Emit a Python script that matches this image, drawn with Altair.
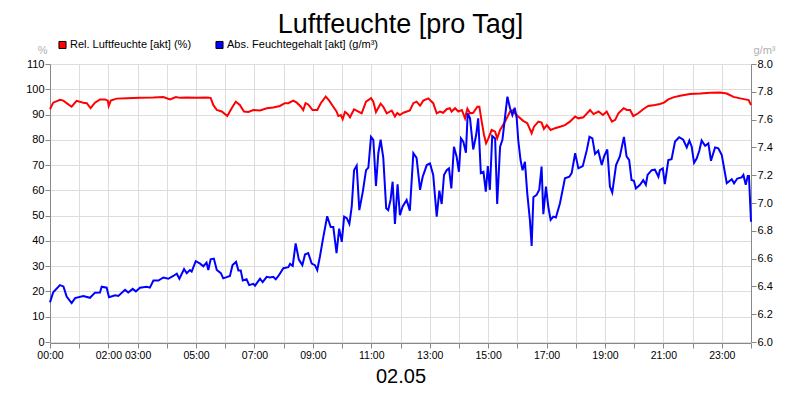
import altair as alt
import pandas as pd

TITLE = "Luftfeuchte [pro Tag]"
DATE = "02.05"
SERIES = ["Rel. Luftfeuchte [akt] (%)", "Abs. Feuchtegehalt [akt] (g/m³)"]
COLORS = ["#ff0000", "#0000ff"]
HOUR_LABELS = [0, 2, 3, 5, 7, 9, 11, 13, 15, 17, 19, 21, 23]
LEFT_TICKS = [0, 10, 20, 30, 40, 50, 60, 70, 80, 90, 100, 110]
RIGHT_TICKS = [6.0, 6.2, 6.4, 6.6, 6.8, 7.0, 7.2, 7.4, 7.6, 7.8, 8.0]

# relative humidity (%), time in hours
REL_T = [0.0, 0.11, 0.34, 0.46, 0.57, 0.74, 0.91, 1.14, 1.26, 1.39, 1.54, 1.71, 1.88, 1.98, 2.01, 2.08,
         2.28, 2.63, 3.08, 3.54, 3.88, 4.11, 4.31, 4.45, 4.68, 5.02, 5.36, 5.50, 5.59, 5.71, 5.88, 6.07,
         6.22, 6.36, 6.50, 6.64, 6.79, 6.96, 7.19, 7.42, 7.64, 7.87, 8.04, 8.16, 8.33, 8.45, 8.59, 8.67,
         8.75, 8.84, 8.99, 9.15, 9.27, 9.44, 9.56, 9.70, 9.81, 9.87, 9.96, 10.02, 10.10, 10.19, 10.27,
         10.41, 10.56, 10.67, 10.82, 10.99, 11.07, 11.16, 11.32, 11.41, 11.53, 11.70, 11.81, 11.89, 11.98,
         12.10, 12.32, 12.44, 12.55, 12.67, 12.78, 12.95, 13.12, 13.24, 13.35, 13.46, 13.58, 13.69, 13.75,
         13.87, 13.98, 14.10, 14.21, 14.29, 14.38, 14.49, 14.63, 14.70, 14.78, 14.86, 14.93, 15.01, 15.12,
         15.24, 15.31, 15.41, 15.58, 15.75, 15.86, 15.92, 16.03, 16.20, 16.34, 16.49, 16.57, 16.72, 16.83,
         16.91, 17.01, 17.14, 17.29, 17.46, 17.63, 17.80, 17.98, 18.09, 18.26, 18.49, 18.61, 18.78, 18.93,
         19.06, 19.24, 19.35, 19.46, 19.64, 19.75, 19.86, 19.97, 20.14, 20.31, 20.48, 20.71, 20.88, 21.02,
         21.17, 21.34, 21.57, 21.91, 22.26, 22.60, 22.94, 23.17, 23.40, 23.63, 23.80, 23.92, 24.0]
REL_V = [92.1, 94.7, 95.8, 95.5, 94.5, 93.1, 95.4, 94.7, 94.5, 92.5, 94.7, 96.0, 96.0, 95.5, 93.4, 95.5,
         96.3, 96.4, 96.6, 96.7, 96.9, 96.0, 96.9, 96.6, 96.7, 96.6, 96.7, 96.6, 93.8, 91.8, 91.2, 89.4,
         92.5, 95.1, 93.8, 91.2, 91.0, 91.8, 91.6, 92.5, 92.8, 93.4, 94.5, 94.5, 95.5, 94.7, 93.1, 91.8,
         94.5, 94.0, 91.8, 91.8, 94.5, 97.1, 95.5, 93.1, 91.2, 89.4, 89.8, 88.2, 91.0, 90.2, 88.9,
         92.1, 91.2, 90.5, 95.1, 96.5, 95.1, 91.0, 94.3, 93.1, 90.5, 91.6, 89.2, 90.6, 89.8,
         90.7, 91.6, 94.5, 95.1, 93.5, 95.5, 96.4, 94.5, 90.5, 91.2, 90.7, 92.1, 92.5, 91.2,
         92.5, 91.2, 91.8, 88.5, 92.3, 90.5, 90.7, 93.1, 93.1, 87.2, 81.9, 78.6, 80.6, 83.9,
         83.2, 80.6, 83.9, 87.2, 91.2, 91.8, 90.5, 89.2, 87.5, 86.6, 82.6, 85.2, 87.2, 86.8,
         84.3, 85.8, 83.9, 84.6, 85.2, 85.8, 87.2, 89.2, 88.5, 88.9, 91.8, 90.2, 91.2, 89.8,
         91.2, 87.2, 87.9, 90.5, 92.5, 91.8, 91.8, 89.4, 90.5, 92.1, 93.4, 93.8, 94.2, 94.7,
         96.0, 96.8, 97.4, 98.1, 98.3, 98.6, 98.7, 98.3, 97.0, 96.4, 96.0, 95.7, 93.8]

# absolute humidity (g/m³), time in hours
ABS_T = [0.0, 0.11, 0.34, 0.46, 0.57, 0.74, 0.86, 1.14, 1.37, 1.54, 1.71, 1.77, 1.94, 2.02, 2.23, 2.34,
         2.57, 2.68, 2.83, 2.94, 3.08, 3.31, 3.42, 3.54, 3.71, 3.88, 4.05, 4.22, 4.34, 4.43, 4.59, 4.68,
         4.79, 4.85, 4.99, 5.14, 5.25, 5.36, 5.42, 5.50, 5.61, 5.71, 5.85, 5.93, 6.05, 6.16, 6.25, 6.37,
         6.45, 6.53, 6.60, 6.73, 6.82, 6.96, 7.02, 7.19, 7.28, 7.42, 7.53, 7.64, 7.73, 7.82, 7.99, 8.16,
         8.22, 8.31, 8.41, 8.52, 8.64, 8.73, 8.84, 8.96, 9.07, 9.15, 9.24, 9.34, 9.49, 9.61, 9.70, 9.81,
         9.90, 9.99, 10.07, 10.16, 10.25, 10.33, 10.41, 10.50, 10.59, 10.71, 10.82, 10.90, 10.99, 11.07,
         11.16, 11.24, 11.32, 11.41, 11.51, 11.58, 11.66, 11.73, 11.81, 11.90, 11.98, 12.07, 12.21, 12.32,
         12.44, 12.55, 12.67, 12.76, 12.90, 13.01, 13.12, 13.24, 13.33, 13.41, 13.49, 13.58, 13.66, 13.74,
         13.83, 13.92, 14.00, 14.07, 14.15, 14.24, 14.30, 14.38, 14.49, 14.59, 14.66, 14.75, 14.84, 14.92,
         14.99, 15.06, 15.14, 15.24, 15.31, 15.41, 15.49, 15.58, 15.66, 15.75, 15.83, 15.91, 15.98, 16.03,
         16.11, 16.18, 16.26, 16.34, 16.43, 16.49, 16.55, 16.66, 16.75, 16.83, 16.89, 16.98, 17.06, 17.14,
         17.23, 17.32, 17.46, 17.63, 17.78, 17.86, 17.98, 18.09, 18.24, 18.38, 18.47, 18.57, 18.66, 18.77,
         18.89, 18.97, 19.08, 19.17, 19.25, 19.38, 19.51, 19.65, 19.74, 19.83, 19.91, 19.99, 20.06, 20.20,
         20.31, 20.40, 20.46, 20.60, 20.71, 20.83, 20.88, 20.98, 21.05, 21.17, 21.28, 21.40, 21.54, 21.68,
         21.80, 21.89, 21.97, 22.05, 22.14, 22.23, 22.31, 22.43, 22.54, 22.63, 22.77, 22.88, 23.00, 23.17,
         23.34, 23.42, 23.53, 23.68, 23.74, 23.82, 23.89, 23.93, 24.0]
ABS_V = [6.285, 6.358, 6.409, 6.400, 6.327, 6.280, 6.316, 6.331, 6.318, 6.355, 6.356, 6.398, 6.391, 6.322, 6.336, 6.331,
         6.375, 6.356, 6.382, 6.364, 6.391, 6.398, 6.391, 6.442, 6.442, 6.464, 6.455, 6.475, 6.491, 6.455, 6.525, 6.495,
         6.518, 6.507, 6.582, 6.564, 6.545, 6.571, 6.518, 6.595, 6.600, 6.518, 6.495, 6.458, 6.467, 6.475, 6.553, 6.576,
         6.515, 6.515, 6.442, 6.451, 6.409, 6.418, 6.405, 6.455, 6.431, 6.469, 6.465, 6.469, 6.451, 6.475, 6.531, 6.538,
         6.562, 6.547, 6.709, 6.593, 6.553, 6.629, 6.640, 6.564, 6.553, 6.518, 6.613, 6.735, 6.905, 6.827, 6.827, 6.640,
         6.816, 6.720, 6.902, 6.891, 6.849, 6.973, 7.236, 7.269, 6.949, 7.082, 7.236, 7.255, 7.476, 7.455,
         7.122, 7.358, 7.455, 7.327, 6.962, 6.949, 7.022, 7.153, 6.849, 7.135, 6.913, 6.973, 7.022, 6.945,
         7.358, 7.324, 7.095, 7.189, 7.273, 7.285, 7.202, 6.902, 7.089, 6.993, 7.202, 7.236, 7.249, 7.105,
         7.405, 7.335, 7.225, 7.465, 7.442, 7.362, 7.645, 7.609, 7.385, 7.489, 7.609, 7.215, 7.225, 7.082,
         7.265, 7.095, 7.482, 7.465, 6.993, 7.405, 7.455, 7.622, 7.765, 7.682, 7.633, 7.685, 7.609, 7.455,
         7.309, 7.236, 7.296, 7.069, 6.878, 6.691, 7.042, 7.058, 7.095, 7.262, 6.920, 7.118, 6.973, 6.878,
         6.902, 6.896, 6.998, 7.178, 7.189, 7.215, 7.358, 7.249, 7.265, 7.382, 7.476, 7.465, 7.353, 7.376,
         7.273, 7.335, 7.385, 7.118, 7.075, 7.273, 7.335, 7.476, 7.335, 7.309, 7.165, 7.160, 7.105, 7.131,
         7.165, 7.131, 7.202, 7.236, 7.240, 7.189, 7.236, 7.249, 7.136, 7.309, 7.315, 7.442, 7.473, 7.455,
         7.400, 7.449, 7.405, 7.289, 7.320, 7.376, 7.449, 7.411, 7.429, 7.304, 7.400, 7.393, 7.345, 7.142,
         7.171, 7.142, 7.176, 7.184, 7.202, 7.131, 7.195, 7.195, 6.865]

FONT = "Liberation Sans"
GRAY = "#b0b0b0"
GRID = "#c0c0c0"

rel = pd.DataFrame({"t": REL_T, "v": REL_V})
absd = pd.DataFrame({"t": ABS_T, "v": ABS_V})
leg = pd.DataFrame({"s": SERIES})

label_expr = ("indexof([" + ",".join(str(h) for h in HOUR_LABELS) + "], datum.value) >= 0 ? "
              "(datum.value < 10 ? '0' : '') + datum.value + ':00' : ''")

x_enc = alt.X(
    "t:Q",
    scale=alt.Scale(domain=[0, 24], nice=False, zero=False),
    axis=alt.Axis(
        values=list(range(25)), labelExpr=label_expr, title=DATE,
        titleFontSize=20, titleFont=FONT, titleFontWeight="normal", titleColor="black",
        titlePadding=6, labelFontSize=10.5, labelPadding=2, offset=1, labelFlush=False,
        labelOverlap=False,
        gridOpacity={"condition": {"test": "datum.value == 0 || datum.value == 24", "value": 0}, "value": 1},
    ),
)

red = alt.Chart(rel).mark_line(color=COLORS[0], strokeWidth=2).encode(
    x=x_enc,
    y=alt.Y(
        "v:Q",
        scale=alt.Scale(domain=[0, 110], nice=False, zero=False),
        axis=alt.Axis(
            values=LEFT_TICKS, title="%", titleAngle=0, titleX=-3, titleY=-11,
            titleAlign="right", titleBaseline="alphabetic", titleFontSize=11,
            titleFont=FONT, titleFontWeight="normal", titleColor=GRAY,
            labelFontSize=11, labelPadding=1,
            gridOpacity={"condition": {"test": "datum.value == 0 || datum.value == 110", "value": 0}, "value": 1},
        ),
    ),
)

blue = alt.Chart(absd).mark_line(color=COLORS[1], strokeWidth=2).encode(
    x=x_enc,
    y=alt.Y(
        "v:Q",
        scale=alt.Scale(domain=[6.0, 8.0], nice=False, zero=False),
        axis=alt.Axis(
            orient="right", values=RIGHT_TICKS, format=".1f", grid=False,
            title="g/m³", titleAngle=0, titleX=2, titleY=-11,
            titleAlign="left", titleBaseline="alphabetic", titleFontSize=11,
            titleFont=FONT, titleFontWeight="normal", titleColor=GRAY,
            labelFontSize=11, labelPadding=1,
        ),
    ),
)

legend_layer = alt.Chart(leg).mark_square(filled=True, size=50, stroke="black", strokeWidth=1, opacity=1).encode(
    color=alt.Color(
        "s:N",
        scale=alt.Scale(domain=SERIES, range=COLORS),
        legend=alt.Legend(
            orient="none", legendX=7, legendY=-25, direction="horizontal", columns=2,
            title=None, symbolType="square", symbolSize=50, symbolStrokeColor="black",
            symbolStrokeWidth=1, labelFont=FONT, labelFontSize=11, labelColor="black",
            labelOffset=2, columnPadding=21, padding=0,
        ),
    ),
).transform_filter("false")

chart = alt.layer(red, blue, legend_layer).resolve_scale(y="independent").properties(
    width=701,
    height=278,
    autosize=alt.AutoSizeParams(type="none"),
    padding={"left": 42, "top": 56, "right": 41, "bottom": 50},
    title=alt.TitleParams(
        TITLE, fontSize=27, font=FONT, fontWeight="normal", color="black",
        anchor="middle", baseline="alphabetic", offset=0, dy=21,
    ),
).configure_view(stroke="black", strokeWidth=1).configure_axis(
    labelFont=FONT, labelColor=GRAY, tickColor=GRAY, tickSize=5, gridColor=GRID,
    domain=False,
).configure(background="white")

chart.save("out.html", embed_options={"renderer": "svg", "actions": False})
